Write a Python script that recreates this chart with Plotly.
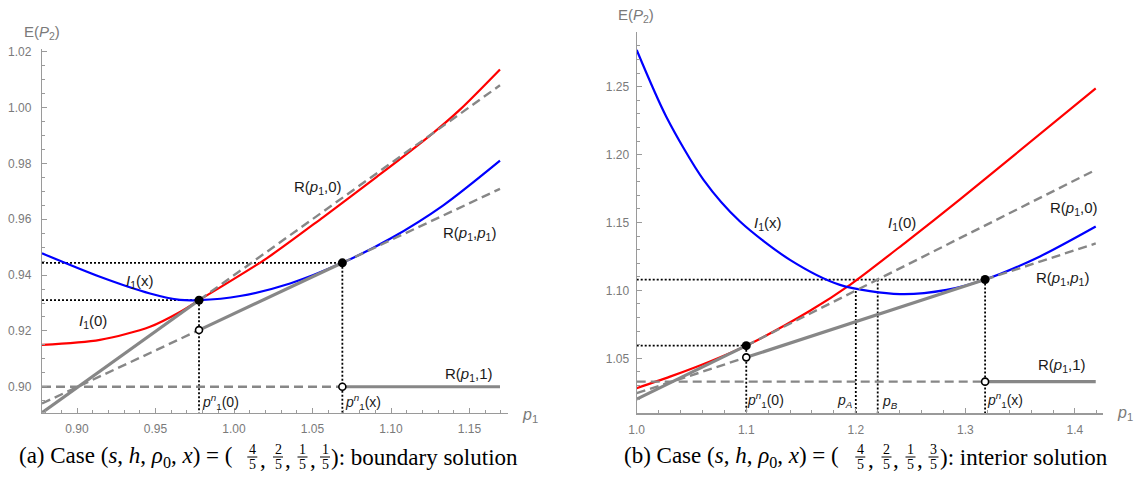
import plotly.graph_objects as go

W, H = 1136, 481

# ---------------- data: panel (a) ----------------
A_P_START, A_P_END = 0.8777, 1.1694
A_PN0, A_PNX = 0.9777, 1.069
A_BLUE_P = [0.8777, 0.9146, 0.9465, 0.9656, 0.9777, 1.0038, 1.0357, 1.069, 1.0994, 1.1333, 1.1694]
A_BLUE_Y = [0.9478, 0.9394, 0.9334, 0.9311, 0.9310, 0.9325, 0.9370, 0.9444, 0.9530, 0.9650, 0.9810]
A_RED_P = [0.8777, 0.9146, 0.9465, 0.9656, 0.9777, 1.0208, 1.0569, 1.0909, 1.1248, 1.1439, 1.1694]
A_RED_Y = [0.9150, 0.9168, 0.9215, 0.9268, 0.9310, 0.9460, 0.9608, 0.9752, 0.9900, 0.9993, 1.0137]
A_R0_Y = [0.8907, 0.9310, 1.0080]           # R(p1,0) at start, p1n(0), end
A_RR_Y = [0.8940, 0.9203, 0.9444, 0.9709]   # R(p1,p1) at start, p1n(0), p1n(x), end
A_R1_Y = 0.900                              # R(p1,1)
A_XTICKS = [0.90, 0.95, 1.00, 1.05, 1.10, 1.15]
A_YTICKS = [0.90, 0.92, 0.94, 0.96, 0.98, 1.00, 1.02]

# ---------------- data: panel (b) ----------------
B_P_START, B_P_END = 1.0, 1.419
B_PN0, B_PNX, B_PA, B_PB = 1.1, 1.318, 1.2, 1.22
B_BLUE_P = [1.0, 1.027, 1.061, 1.0943, 1.1399, 1.1855, 1.2403, 1.2829, 1.318, 1.3681, 1.419]
B_BLUE_Y = [1.2770, 1.2279, 1.1814, 1.1507, 1.1225, 1.1041, 1.0973, 1.1004, 1.1080, 1.1250, 1.1470]
B_RED_P = [1.0, 1.0304, 1.0669, 1.1, 1.1582, 1.1947, 1.2464, 1.2951, 1.3452, 1.419]
B_RED_Y = [1.0280, 1.0365, 1.0477, 1.0593, 1.0850, 1.1041, 1.1360, 1.1670, 1.2000, 1.2488]
B_R0_Y = [1.0199, 1.0593, 1.1888]
B_RR_Y = [1.0243, 1.0507, 1.1080, 1.1346]
B_R1_Y = 1.0328
B_PA_TOP = 1.0995
B_XTICKS = [1.0, 1.1, 1.2, 1.3, 1.4]
B_YTICKS = [1.05, 1.10, 1.15, 1.20, 1.25]

A_XR = [0.8777, 1.1745]
A_YR = [0.8907, 1.0209]
B_XR = [1.0, 1.4259]
B_YR = [1.0095, 1.2905]

GRAY = "#878787"
AX = "#9a9a9a"
TXT = "#1a1a1a"
TICKC = "#7a7a7a"


def PX(x):
    return x / W


def PY(y):
    return 1 - y / H


fig = go.Figure()


def line(xs, ys, ax, color, width, dash=None, shape="linear"):
    xa, ya = ("x", "y") if ax == "a" else ("x2", "y2")
    fig.add_trace(go.Scatter(x=xs, y=ys, xaxis=xa, yaxis=ya, mode="lines",
                             line=dict(color=color, width=width, dash=dash, shape=shape,
                                       smoothing=0.8 if shape == "spline" else None),
                             hoverinfo="skip", showlegend=False))


def dots(xs, ys, ax, filled):
    xa, ya = ("x", "y") if ax == "a" else ("x2", "y2")
    if filled:
        mk = dict(color="black", size=9, line=dict(width=0))
    else:
        mk = dict(color="white", size=7, line=dict(color="black", width=1.6))
    fig.add_trace(go.Scatter(x=xs, y=ys, xaxis=xa, yaxis=ya, mode="markers", marker=mk,
                             hoverinfo="skip", showlegend=False, cliponaxis=False))


DOT = "2px,2px"
DASH = "9px,5px"
DW = 1.8

# ---- panel (a) ----
line([A_P_START, A_PNX], [A_RR_Y[2], A_RR_Y[2]], "a", "black", DW, DOT)
line([A_P_START, A_PN0], [A_R0_Y[1], A_R0_Y[1]], "a", "black", DW, DOT)
line([A_PN0, A_PN0], [A_R0_Y[1], A_YR[0]], "a", "black", DW, DOT)
line([A_PNX, A_PNX], [A_RR_Y[2], A_YR[0]], "a", "black", DW, DOT)

line(A_RED_P, A_RED_Y, "a", "#ff0000", 2.2, shape="spline")
line(A_BLUE_P, A_BLUE_Y, "a", "#0000ff", 2.2, shape="spline")

line([A_P_START, A_PN0], A_R0_Y[:2], "a", GRAY, 3.2)
line([A_PN0, A_P_END], A_R0_Y[1:], "a", GRAY, 2.4, DASH)
line([A_P_START, A_PN0], A_RR_Y[:2], "a", GRAY, 2.4, DASH)
line([A_PN0, A_PNX], A_RR_Y[1:3], "a", GRAY, 3.2)
line([A_PNX, A_P_END], A_RR_Y[2:], "a", GRAY, 2.4, DASH)
line([A_P_START, A_PNX], [A_R1_Y, A_R1_Y], "a", GRAY, 2.4, DASH)
line([A_PNX, A_P_END], [A_R1_Y, A_R1_Y], "a", GRAY, 3.2)

dots([A_PN0, A_PNX], [A_R0_Y[1], A_RR_Y[2]], "a", True)
dots([A_PN0, A_PNX], [A_RR_Y[1], A_R1_Y], "a", False)

# ---- panel (b) ----
line([B_P_START, B_PNX], [B_RR_Y[2], B_RR_Y[2]], "b", "black", DW, DOT)
line([B_P_START, B_PN0], [B_R0_Y[1], B_R0_Y[1]], "b", "black", DW, DOT)
line([B_PN0, B_PN0], [B_R0_Y[1], B_YR[0]], "b", "black", DW, DOT)
line([B_PA, B_PA], [B_PA_TOP, B_YR[0]], "b", "black", DW, DOT)
line([B_PB, B_PB], [B_RR_Y[2], B_YR[0]], "b", "black", DW, DOT)
line([B_PNX, B_PNX], [B_RR_Y[2], B_YR[0]], "b", "black", DW, DOT)

line(B_RED_P, B_RED_Y, "b", "#ff0000", 2.2, shape="spline")
line(B_BLUE_P, B_BLUE_Y, "b", "#0000ff", 2.2, shape="spline")

line([B_P_START, B_PN0], B_R0_Y[:2], "b", GRAY, 3.2)
line([B_PN0, B_P_END], B_R0_Y[1:], "b", GRAY, 2.4, DASH)
line([B_P_START, B_PN0], B_RR_Y[:2], "b", GRAY, 2.4, DASH)
line([B_PN0, B_PNX], B_RR_Y[1:3], "b", GRAY, 3.2)
line([B_PNX, B_P_END], B_RR_Y[2:], "b", GRAY, 2.4, DASH)
line([B_P_START, B_PNX], [B_R1_Y, B_R1_Y], "b", GRAY, 2.4, DASH)
line([B_PNX, B_P_END], [B_R1_Y, B_R1_Y], "b", GRAY, 3.2)

dots([B_PN0, B_PNX], [B_R0_Y[1], B_RR_Y[2]], "b", True)
dots([B_PN0, B_PNX], [B_RR_Y[1], B_R1_Y], "b", False)


def axis(domain, rng, tickvals, fmt, minor, anchor, standoff):
    return dict(domain=domain, range=rng, anchor=anchor, showline=True, linecolor=AX, linewidth=1.2,
                showgrid=False, zeroline=False, ticks="inside", ticklen=5, tickwidth=1, tickcolor=AX,
                tickmode="array", tickvals=tickvals, ticktext=[fmt.format(v) for v in tickvals],
                tickfont=dict(family="Liberation Sans, Arial, sans-serif", size=12, color=TICKC),
                minor=dict(tick0=tickvals[0], dtick=minor, ticks="inside", ticklen=3, tickcolor=AX, tickwidth=1),
                ticklabelstandoff=standoff, automargin=False, fixedrange=True)


fig.update_layout(
    width=W, height=H, margin=dict(l=0, r=0, t=0, b=0, pad=0, autoexpand=False),
    paper_bgcolor="white", plot_bgcolor="white",
    xaxis=axis([PX(42), PX(508)], A_XR, A_XTICKS, "{:.2f}", 0.01, "y", 5),
    yaxis=axis([PY(412.7), PY(49.3)], A_YR, A_YTICKS, "{:.2f}", 0.005, "x", 7),
    xaxis2=axis([PX(636.7), PX(1103.3)], B_XR, B_XTICKS, "{:.1f}", 0.02, "y2", 5),
    yaxis2=axis([PY(413.3), PY(31.7)], B_YR, B_YTICKS, "{:.2f}", 0.01, "x2", 4),
)

SANS = "Liberation Sans, Arial, sans-serif"
SERIF = "Liberation Serif, Times New Roman, serif"
anns = []
shapes = []


def lab(text, x, y, xanchor="center", size=15, color=TXT, family=SANS, yanchor="middle"):
    anns.append(dict(text=text, x=PX(x), y=PY(y), xref="paper", yref="paper", showarrow=False,
                     xanchor=xanchor, yanchor=yanchor, borderpad=0,
                     font=dict(family=family, size=size, color=color)))


P1 = "<i>p</i><sub>1</sub>"
PN1 = "<i>p</i><sup><i>n</i></sup><sub>1</sub>"
I1 = "<i>I</i><sub>1</sub>"

# panel (a) labels
lab("R(" + P1 + ",0)", 317.5, 187)
lab("R(" + P1 + "," + P1 + ")", 469, 233)
lab(I1 + "(x)", 140, 281.7)
lab(I1 + "(0)", 93, 321.7)
lab("R(" + P1 + ",1)", 469, 374)
lab(PN1 + "(0)", 201, 401.7, "left", 14)
lab(PN1 + "(x)", 344, 401.7, "left", 14)
lab(P1, 521, 415, "left", 16, TICKC)
lab("E(<i>P</i><sub>2</sub>)", 42, 33, "center", 15, TICKC)

# panel (b) labels
lab(I1 + "(x)", 768, 223)
lab(I1 + "(0)", 902, 223)
lab("R(" + P1 + ",0)", 1074, 208)
lab("R(" + P1 + "," + P1 + ")", 1062, 278)
lab("R(" + P1 + ",1)", 1062, 365)
lab(PN1 + "(0)", 746, 400, "left", 14)
lab("<i>p</i><sub><i>A</i></sub>", 836, 401, "left", 14)
lab("<i>p</i><sub><i>B</i></sub>", 881, 402, "left", 14)
lab(PN1 + "(x)", 986, 400, "left", 14)
lab(P1, 1116, 413, "left", 16, TICKC)
lab("E(<i>P</i><sub>2</sub>)", 636, 15, "center", 15, TICKC)

# captions
CAP_Y = 457
CAP_FS = 23
CAP_A_FRAC = [("4", "5"), ("2", "5"), ("1", "5"), ("1", "5")]
CAP_B_FRAC = [("4", "5"), ("2", "5"), ("1", "5"), ("3", "5")]


def caption(label, fracs, centers, commas, end_x, tail, head_left):
    lab("(" + label + ") Case (<i>s</i>, <i>h</i>, <i>ρ</i><sub>0</sub>, <i>x</i>) = (",
        head_left, CAP_Y, "left", CAP_FS, "black", SERIF)
    for (n, d), c in zip(fracs, centers):
        lab(n, c, CAP_Y - 7.5, "center", 14, "black", SERIF)
        lab(d, c, CAP_Y + 7.5, "center", 14, "black", SERIF)
        shapes.append(dict(type="line", xref="paper", yref="paper", x0=PX(c - 5), x1=PX(c + 5),
                           y0=PY(CAP_Y), y1=PY(CAP_Y), line=dict(color="black", width=1)))
    for c in commas:
        lab(",", c, CAP_Y + 2, "center", CAP_FS, "black", SERIF)
    lab("): " + tail, end_x, CAP_Y, "left", CAP_FS, "black", SERIF)


caption("a", CAP_A_FRAC, [252.3, 278, 302.5, 325], [263, 288, 313], 330, "boundary solution", 18)
caption("b", CAP_B_FRAC, [860.3, 886.5, 910.5, 933.5], [871, 896, 920], 939, "interior solution", 623)

fig.update_layout(annotations=anns, shapes=shapes)
fig.write_html("out.html", config={"displayModeBar": False, "staticPlot": True},
               post_script="document.body.style.margin='0px';document.body.style.overflow='hidden';")
